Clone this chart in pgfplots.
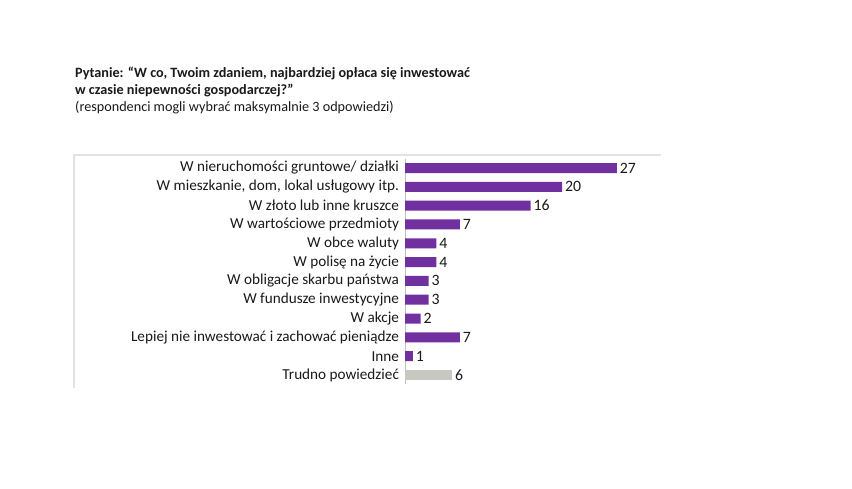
\documentclass[border=0pt]{standalone}
\usepackage{pgfplots}
\pgfplotsset{compat=1.18}
\usepackage{fontspec}
\setmainfont{Carlito}
\definecolor{barpurple}{HTML}{7030A0}
\definecolor{bargray}{HTML}{C8C8C2}
\definecolor{txt}{HTML}{1A1A1A}
\definecolor{frame}{HTML}{E3E3E3}
\begin{document}
\begin{tikzpicture}
\path[fill=white] (0,0) rectangle (852bp,-489bp);
\draw[frame, line width=1.5bp] (74bp,-388bp) -- (74bp,-155bp) -- (661bp,-155bp);
\node[anchor=base west, text=txt, font=\fontsize{14.2bp}{16bp}\selectfont\bfseries, inner sep=0pt] at (75bp,-77bp) {Pytanie: “W co, Twoim zdaniem, najbardziej opłaca się inwestować};
\node[anchor=base west, text=txt, font=\fontsize{14.2bp}{16bp}\selectfont\bfseries, inner sep=0pt] at (75bp,-94bp) {w czasie niepewności gospodarczej?”};
\node[anchor=base west, text=txt, font=\fontsize{14.2bp}{16bp}\selectfont, inner sep=0pt] at (75bp,-111bp) {(respondenci mogli wybrać maksymalnie 3 odpowiedzi)};
\begin{axis}[
  at={(405bp,-384.4bp)}, anchor=south west,
  scale only axis, width=235.5bp, height=225.8bp,
  xmin=0, xmax=30, ymin=-0.5, ymax=11.5,
  axis x line=none,
  axis y line*=left,
  y axis line style={draw=gray!50, line width=0.6bp, -},
  ytick={0,...,11},
  yticklabels={Trudno powiedzieć, Inne, Lepiej nie inwestować i zachować pieniądze, W akcje, W fundusze inwestycyjne, W obligacje skarbu państwa, W polisę na życie, W obce waluty, W wartościowe przedmioty, W złoto lub inne kruszce, {W mieszkanie, dom, lokal usługowy itp.}, W nieruchomości gruntowe/ działki},
  yticklabel style={font=\fontsize{15.2bp}{17bp}\selectfont, text=txt, xshift=-2.5bp},
  major tick length=0pt,
  tick style={draw=none},
  xbar, bar width=10bp, bar shift=0pt,
  /pgf/number format/assume math mode=true,
  nodes near coords,
  every node near coord/.append style={font=\fontsize{15.8bp}{18bp}\selectfont, text=txt, anchor=west, xshift=-0.5bp},
  clip=false,
]
\addplot[fill=barpurple, draw=none] coordinates {(27,11) (20,10) (16,9) (7,8) (4,7) (4,6) (3,5) (3,4) (2,3) (7,2) (1,1)};
\addplot[fill=bargray, draw=none] coordinates {(6,0)};
\end{axis}
\end{tikzpicture}
\end{document}
